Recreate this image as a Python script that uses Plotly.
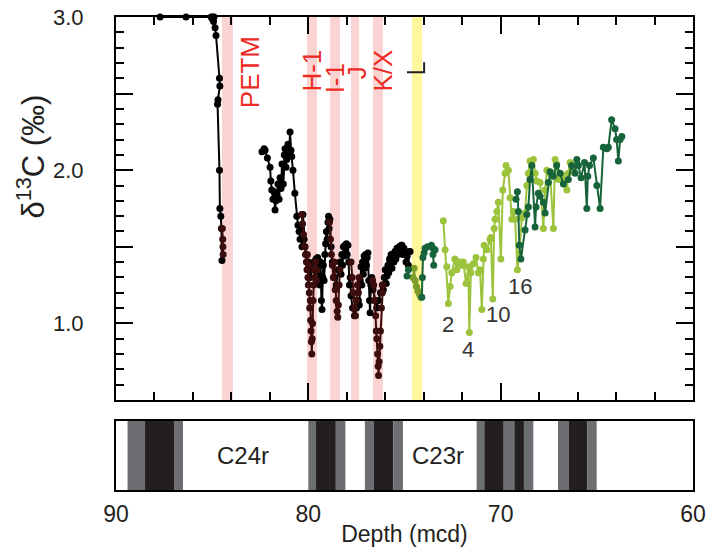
import plotly.graph_objects as go

# ---------------- data ----------------
# Black record (lower resolution), None = gap
black_depth = [87.71, 86.36, 85.05, 85.00, 84.96, 84.93, 84.90, 84.85, 84.80, 84.62, 84.60, 84.70, 84.72,
               84.62, 84.60, 84.55, 84.52, 84.49, None,
               82.41, 82.30, 82.25, 82.13, 81.99, 81.95, 81.90, 81.84, 81.78, 81.73, 81.68, 81.63, 81.58,
               81.52, 81.47, 81.42, 81.37, 81.30, 81.25, 81.21, 81.16, 81.12, 81.06, 81.00, 80.95, 80.90,
               80.86, 80.80, 80.70, 80.60, 80.54, 80.48, 80.43, 80.38, 80.33, 80.28, 80.22, 80.17, 80.10,
               80.00, 79.90, 79.80, 79.70, 79.60, 79.52, 79.48, 79.45, 79.40, 79.36, 79.32, 79.29, 79.25,
               79.22, 79.18, 79.14, 79.10, 79.06, 79.02, 78.98, 78.95, 78.92, 78.88, 78.82, 78.75, 78.65,
               78.55, 78.45, 78.35, 78.30, 78.26, 78.22, 78.18, 78.14, 78.10, 78.06, 78.02, 77.98, 77.94,
               77.90, 77.86, 77.82, 77.78, 77.70, 77.60, 77.50, 77.40, 77.35, 77.30, 77.26, 77.22, 77.18,
               77.14, 77.10, 77.06, 77.02, 76.98, 76.94, 76.90, 76.86, 76.82, 76.79, 76.75, 76.70, 76.64,
               76.55, 76.45, 76.35, 76.25, 76.15, 76.10, 76.05, 76.00, 75.95, 75.91, 75.86, 75.82, 75.78,
               75.75, 75.70, 75.65, 75.60, 75.55, 75.50, 75.45, 75.39, 75.34, 75.28, 75.22, 75.17, 75.13,
               75.08, 75.03, 74.97, 74.92, 74.86, 74.80, 74.75, 74.71]
black_d13c = [3.00, 3.00, 3.00, 2.99, 3.00, 2.97, 3.00, 2.93, 2.88, 2.60, 2.55, 2.46, 2.43,
              2.00, 1.75, 1.70, 1.62, 1.41, None,
              2.12, 2.14, 2.13, 2.08, 2.02, 1.93, 1.87, 1.81, 1.86, 1.74, 1.80, 1.84, 1.91,
              1.81, 1.95, 1.88, 2.04, 1.91, 2.10, 2.14, 2.02, 2.07, 2.17, 2.10, 2.25, 2.13,
              2.09, 2.00, 1.85, 1.70, 1.64, 1.60, 1.55, 1.62, 1.50, 1.71, 1.55, 1.50, 1.45,
              1.40, 1.30, 1.35, 1.40, 1.42, 1.43, 1.30, 1.38, 1.25, 1.40, 1.15, 1.09, 1.30,
              1.38, 1.28, 1.45, 1.52, 1.60, 1.55, 1.66, 1.70, 1.62, 1.68, 1.50, 1.40, 1.30,
              1.25, 1.35, 1.40, 1.32, 1.45, 1.38, 1.50, 1.44, 1.51, 1.47, 1.52, 1.45, 1.51,
              1.40, 1.25, 1.30, 1.18, 1.10, 1.05, 1.10, 1.15, 1.12, 1.28, 1.37, 1.25, 1.40,
              1.32, 1.44, 1.36, 1.45, 1.38, 1.43, 1.46, 1.28, 1.15, 1.07, 1.25, 1.30, 1.22,
              1.15, 1.10, 1.15, 1.20, 1.25, 1.22, 1.30, 1.35, 1.26, 1.31, 1.38, 1.33, 1.42,
              1.40, 1.45, 1.36, 1.43, 1.40, 1.47, 1.42, 1.49, 1.45, 1.50, 1.46, 1.51, 1.51,
              1.45, 1.49, 1.46, 1.40, 1.44, 1.38, 1.47, 1.47]

# High-resolution record across the hyperthermals (maroon)
hr_depth = [84.47, 84.45, 84.44, 84.43, None,
            80.35, 80.30, 80.25, 80.20, 80.15, 80.10, 80.07, 80.05, 80.02, 80.00, 79.98, 79.95, 79.93,
            79.90, 79.88, 79.86, 79.84, 79.82, 79.80, 79.78, 79.75, 79.72, 79.70, 79.66, 79.62, 79.58,
            79.55, None,
            78.90, 78.85, 78.80, 78.75, 78.70, 78.65, 78.60, 78.55, 78.50, 78.47, 78.44, 78.40, 78.36, None,
            77.78, 77.72, 77.66, 77.60, 77.55, 77.50, 77.45, 77.40, 77.36, None,
            76.66, 76.60, 76.55, 76.50, 76.47, 76.44, 76.40, 76.37, 76.35, 76.32, 76.28, 76.25, 76.20,
            76.15, 76.12]
hr_d13c = [1.62, 1.55, 1.50, 1.45, None,
           1.71, 1.65, 1.58, 1.50, 1.45, 1.40, 1.35, 1.45, 1.30, 1.25, 1.38, 1.20, 1.10,
           1.15, 1.02, 0.95, 0.88, 0.80, 0.90, 1.00, 1.15, 1.25, 1.35, 1.30, 1.40, 1.28,
           1.35, None,
           1.66, 1.55, 1.45, 1.38, 1.30, 1.40, 1.22, 1.15, 1.08, 1.04, 1.12, 1.25, 1.35, None,
           1.40, 1.30, 1.20, 1.10, 1.05, 1.15, 1.25, 1.20, 1.30, None,
           1.28, 1.25, 1.15, 1.05, 0.95, 0.90, 0.80, 0.72, 0.66, 0.75, 0.85, 0.95, 1.10,
           1.20, 1.25]

# Dark green record
dg_depth = [74.87, 74.80, None,
            74.10, 74.07, 74.04, 73.98, 73.93, 73.80, 73.60, 73.52, 73.48, 73.52, 73.41, None,
            69.20, 69.13, 69.08, 69.03, 68.95, 68.73, 68.64, 68.56, 68.47, 68.38, 68.21, 68.16, 68.04,
            67.95, 67.78, 67.69, 67.52, 67.43, 67.26, 67.09, 66.91, 66.74, 66.48, 66.31, 66.13, 66.04,
            65.96, 65.82, 65.64, 65.52, 65.47, 65.38, 65.18, 65.00, 64.83, 64.66, 64.48, 64.40, 64.23,
            64.05, 63.97, 63.88, 63.79, 63.70]
dg_d13c = [1.31, 1.35, None,
           1.17, 1.30, 1.43, 1.46, 1.49, 1.50, 1.51, 1.49, 1.38, 1.45, 1.48, None,
           1.81, 1.86, 1.73, 1.51, 1.42, 1.61, 1.71, 1.76, 1.94, 2.03, 1.63, 1.76, 1.85,
           1.83, 1.79, 1.72, 1.92, 1.99, 1.96, 2.03, 1.98, 1.91, 1.94, 2.03, 1.98, 2.07,
           2.03, 1.95, 2.05, 1.75, 1.96, 2.03, 2.08, 1.90, 1.75, 2.15, 2.14, 2.15, 2.33,
           2.27, 2.20, 2.06, 2.20, 2.22]

# Olive record inside the yellow band
ol_depth = [74.56, 74.50, 74.45, 74.38, 74.30, 74.22, 74.15]
ol_d13c = [1.30, 1.36, 1.28, 1.24, 1.21, 1.19, 1.17]

# Light green record
lg_depth = [72.98, 72.89, 72.80, 72.72, 72.63, 72.54, 72.38, 72.28, 72.20, 72.11, 72.02, 71.94, 71.80,
            71.68, 71.63, 71.55, 71.42, 71.28, 71.16, 71.07, 70.98, 70.90, 70.86, 70.72, 70.55, 70.51,
            70.41, 70.34, 70.29, 70.20, 70.12, 69.99, 69.89, 69.77, 69.72, 69.60, 69.51, 69.42, 69.34,
            69.25, 69.13, 69.03, 68.90, 68.73, 68.64, 68.56, 68.47, 68.30, 68.21, 68.12, 67.95, 67.78,
            67.69, 67.60, 67.43, 67.26, 67.17, 67.09, 67.00, 66.82, 66.74, 66.56, 66.48, 66.39, 66.22,
            66.04]
lg_d13c = [1.67, 1.48, 1.37, 1.13, 1.24, 1.33, 1.42, 1.35, 1.40, 1.40, 1.38, 1.40, 1.26,
           1.37, 0.94, 1.33, 1.39, 1.43, 1.33, 1.35, 1.09, 1.42, 1.51, 1.48, 1.55, 1.56,
           1.16, 1.62, 1.68, 1.73, 1.79, 1.42, 1.87, 1.98, 2.03, 2.00, 1.82, 1.68, 1.73,
           1.68, 1.35, 1.46, 1.69, 1.72, 1.90, 1.98, 2.06, 2.07, 1.98, 1.93, 1.92, 1.62,
           1.87, 2.00, 1.98, 1.62, 2.07, 2.04, 1.94, 1.97, 1.94, 1.87, 1.98, 2.05, 2.00,
           2.04]

# Event bands
band_start = [84.49, 80.07, 78.87, 77.78, 76.64, 74.60]
band_end = [83.92, 79.55, 78.35, 77.36, 76.12, 74.09]
band_color = ["#fbd3d3", "#fbd3d3", "#fbd3d3", "#fbd3d3", "#fbd3d3", "#fff799"]

event_labels = ["PETM", "H-1", "I-1", "J", "K/X"]
event_x = [83.03, 79.81, 78.61, 77.47, 76.12]
event_y = [2.64, 2.65, 2.60, 2.64, 2.65]

cycle_labels = ["2", "4", "10", "16"]
cycle_x = [72.74, 71.70, 70.14, 68.99]
cycle_y = [0.99, 0.83, 1.055, 1.24]

bracket_x = [74.87, 73.98, 73.98]
bracket_y = [2.64, 2.64, 2.705]

# Magnetostratigraphy
chron_start = [89.85, 89.40, 88.49, 86.98, 86.51, 80.00, 79.60, 78.57, 78.06, 77.06, 76.59, 75.58, 75.08,
               71.25, 70.85, 69.84, 69.29, 68.79, 68.29, 67.02, 66.47, 65.50, 65.00]
chron_end = [89.40, 88.49, 86.98, 86.51, 80.00, 79.60, 78.57, 78.06, 77.06, 76.59, 75.58, 75.08, 71.25,
             70.85, 69.84, 69.29, 68.79, 68.29, 67.02, 66.47, 65.50, 65.00, 60.00]
chron_color = ["w", "g", "k", "g", "w", "g", "k", "g", "w", "g", "k", "g", "w",
               "g", "k", "g", "k", "g", "w", "g", "k", "g", "w"]
chron_names = ["C24r", "C23r"]
chron_name_x = [83.42, 73.25]

y_label_vals = [1.0, 2.0, 3.0]
y_label_text = ["1.0", "2.0", "3.0"]

FONT = "Liberation Sans, Arial, Helvetica, sans-serif"

# ---------------- figure ----------------
fig = go.Figure()

def series(x, y, color, size=7, width=2):
    fig.add_trace(go.Scatter(x=x, y=y, mode="lines+markers", connectgaps=False, cliponaxis=False,
                             line=dict(color=color, width=width),
                             marker=dict(color=color, size=size),
                             xaxis="x", yaxis="y", showlegend=False, hoverinfo="skip"))

series(black_depth, black_d13c, "#000000")
series(hr_depth, hr_d13c, "#3b0d0d")
series(ol_depth, ol_d13c, "#7b9b2a")
series(lg_depth, lg_d13c, "#9cc33c")
series(dg_depth, dg_d13c, "#17643a")

fig.add_trace(go.Scatter(x=bracket_x, y=bracket_y, mode="lines",
                         line=dict(color="#231f20", width=2), showlegend=False,
                         xaxis="x", yaxis="y", hoverinfo="skip"))

# empty traces that carry the tick-only overlay axes
fig.add_trace(go.Scatter(x=[None], y=[None], xaxis="x3", yaxis="y3", showlegend=False,
                         hoverinfo="skip"))
fig.add_trace(go.Scatter(x=[None], y=[None], xaxis="x3", yaxis="y4", showlegend=False,
                         hoverinfo="skip"))

shapes = []
for s, e, c in zip(band_start, band_end, band_color):
    shapes.append(dict(type="rect", xref="x", yref="y", x0=s, x1=e, y0=0.5, y1=3.0,
                       fillcolor=c, line=dict(width=0), layer="below"))
cmap = {"w": "#ffffff", "g": "#6d6e71", "k": "#231f20"}
for s, e, c in zip(chron_start, chron_end, chron_color):
    shapes.append(dict(type="rect", xref="x2", yref="y2", x0=s, x1=e, y0=0, y1=1,
                       fillcolor=cmap[c], line=dict(width=0), layer="below"))

annotations = []
for t, x, y in zip(event_labels, event_x, event_y):
    annotations.append(dict(text=t, x=x, y=y, xref="x", yref="y", showarrow=False,
                            textangle=-90, xanchor="center", yanchor="middle",
                            font=dict(family=FONT, size=26, color="#ee2a24")))
for t, x, y in zip(cycle_labels, cycle_x, cycle_y):
    annotations.append(dict(text=t, x=x, y=y, xref="x", yref="y", showarrow=False,
                            xanchor="center", yanchor="middle",
                            font=dict(family=FONT, size=22, color="#333333")))
for t, x in zip(chron_names, chron_name_x):
    annotations.append(dict(text=t, x=x, y=0.5, xref="x2", yref="y2", showarrow=False,
                            xanchor="center", yanchor="middle",
                            font=dict(family=FONT, size=24, color="#231f20")))
# y-axis title (placed like the reference, slightly above the axis centre)
annotations.append(dict(text="δ<sup>13</sup>C (‰)", x=-0.147, y=2.09, xref="paper", yref="y",
                        showarrow=False, textangle=-90, xanchor="center", yanchor="middle",
                        font=dict(family=FONT, size=31, color="#231f20")))

common = dict(showgrid=False, zeroline=False, automargin=False)

fig.update_layout(
    width=711, height=548,
    margin=dict(l=116, r=18, t=17, b=58),
    paper_bgcolor="white", plot_bgcolor="white",
    font=dict(family=FONT, color="#231f20"),
    shapes=shapes, annotations=annotations, hovermode=False,
    xaxis=dict(domain=[0, 1], anchor="y", range=[90, 60], showline=True, linewidth=2,
               linecolor="black", mirror="ticks", ticks="inside", tick0=60, dtick=10,
               ticklen=17, tickwidth=2, tickcolor="black", showticklabels=False, **common),
    yaxis=dict(domain=[0.1903, 1], anchor="x", range=[0.5, 3.0], showline=True, linewidth=2,
               linecolor="black", mirror="ticks", ticks="inside", tickmode="array",
               tickvals=y_label_vals, ticktext=y_label_text,
               ticklen=17, tickwidth=2, tickcolor="black", ticklabeloverflow="allow",
               tickfont=dict(size=22, color="#231f20"), ticklabelstandoff=26,
               **common),
    xaxis3=dict(overlaying="x", anchor="y", range=[90, 60], showline=False, mirror="ticks",
                ticks="inside", tick0=60, dtick=2, ticklen=8, tickwidth=2, tickcolor="black",
                showticklabels=False, **common),
    yaxis3=dict(overlaying="y", anchor="x", side="left", range=[0.5, 3.0], showline=False,
                mirror="ticks", ticks="inside", tick0=0.5, dtick=0.1, ticklen=8, tickwidth=2,
                tickcolor="black", showticklabels=False, **common),
    yaxis4=dict(overlaying="y", anchor="x", side="left", range=[0.5, 3.0], showline=False,
                mirror="ticks", ticks="inside", tick0=0.5, dtick=0.5, ticklen=17, tickwidth=2,
                tickcolor="black", showticklabels=False, **common),
    xaxis2=dict(domain=[0, 1], anchor="y2", range=[90, 60], showline=True, linewidth=2,
                linecolor="black", mirror=True, ticks="", tick0=60, dtick=10,
                tickfont=dict(size=23, color="#231f20"), ticklabelstandoff=2,
                ticklabeloverflow="allow",
                title=dict(text="Depth (mcd)", font=dict(size=23, color="#231f20"), standoff=0),
                **common),
    yaxis2=dict(domain=[0, 0.1459], anchor="x2", range=[0, 1], showline=True, linewidth=2,
                linecolor="black", mirror=True, ticks="", showticklabels=False, **common),
)

# remove the default 8 px page margin so the figure sits at the window's top-left corner
fig.write_html("out.html", config={"displayModeBar": False},
               post_script="document.body.style.margin='0px';")
